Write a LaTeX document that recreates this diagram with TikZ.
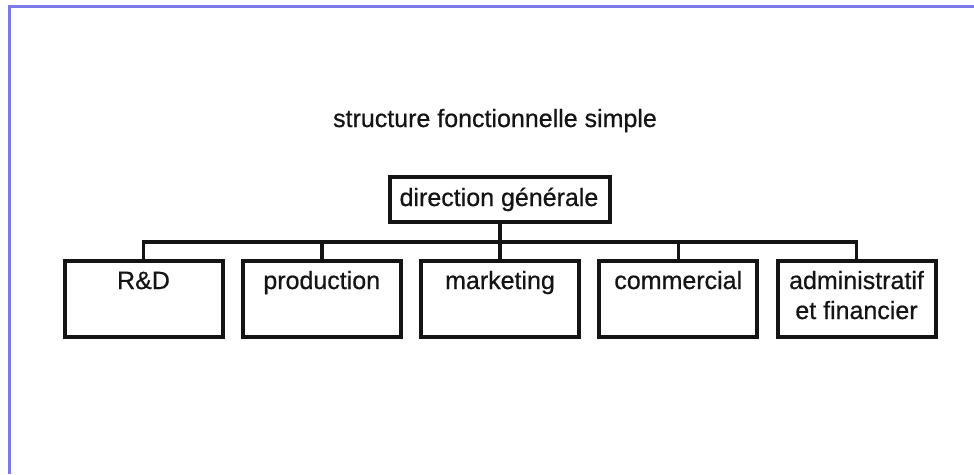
\documentclass[tikz,border=0pt]{standalone}
\usepackage{fontspec}
\setmainfont{Liberation Sans}
\newfontfamily\inkfont{Liberation Sans}[FakeBold=0.6]
\usetikzlibrary{calc}
\definecolor{framecol}{RGB}{122,122,232}
\definecolor{inkcol}{RGB}{20,20,20}
\tikzset{
  orgbox/.style={draw=inkcol, line width=4pt, rectangle, inner sep=0pt},
  lbl/.style={text=inkcol, font=\inkfont\fontsize{25}{30}\selectfont, inner sep=0pt, align=center},
  link/.style={draw=inkcol, line width=3.5pt, line join=miter},
  frameline/.style={draw=framecol, line width=3pt}
}
\begin{document}
\begin{tikzpicture}[x=1pt,y=-1pt]
  \useasboundingbox (0,0) rectangle (974,474);
  \fill[white] (0,0) rectangle (974,474);

  % page frame (left and top edges)
  \draw[frameline] (9,474) -- (9,6) -- (974,6);

  % title
  \node[lbl, anchor=base] (title) at (495,127) {structure fonctionnelle simple};

  % head of the organisation
  \node[orgbox, minimum width=220pt, minimum height=45pt] (head) at (500,199.5) {};
  \node[lbl, anchor=base] (headtxt) at (499,206) {direction générale};

  % departments
  \foreach \n/\x in {rd/143.5, prod/321.75, mkt/500, com/678.25, adm/856.5}
    \node[orgbox, minimum width=158pt, minimum height=76pt] (\n) at (\x,299) {};

  \node[lbl, anchor=base] (rdtxt)   at ($(rd.north)+(0,30)$)   {R\&D};
  \node[lbl, anchor=base] (prodtxt) at ($(prod.north)+(0,30)$) {production};
  \node[lbl, anchor=base] (mkttxt)  at ($(mkt.north)+(0,30)$)  {marketing};
  \node[lbl, anchor=base] (comtxt)  at ($(com.north)+(0,30)$)  {commercial};
  \node[lbl, anchor=base] (admtxt1) at ($(adm.north)+(0,30)$)  {administratif};
  \node[lbl, anchor=base] (admtxt2) at ($(adm.north)+(0,60)$)  {et financier};

  % connectors
  \coordinate (bus) at (500,242);
  \draw[link] (head.south) -- (bus);
  \draw[link] (rd.north) -- (rd.north |- bus) -- (adm.north |- bus) -- (adm.north);
  \foreach \n in {prod, mkt, com}
    \draw[link] (\n.north) -- (\n.north |- bus);
\end{tikzpicture}
\end{document}
